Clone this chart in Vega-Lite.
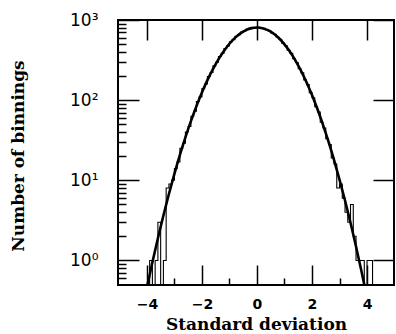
{
  "$schema": "https://vega.github.io/schema/vega-lite/v6.json",
  "autosize": "none",
  "padding": {"left": 118, "top": 20, "right": 2, "bottom": 49},
  "width": 276,
  "height": 265,
  "background": "white",
  "config": {
    "view": {"stroke": "black", "strokeWidth": 2},
    "axis": {"domain": false, "grid": false, "labelColor": "black", "titleColor": "black"}
  },
  "datasets": {
    "hist": [
      {"sd": -4.3, "n": 0.2}, {"sd": -4.0, "n": 0.2}, {"sd": -3.9, "n": 1}, {"sd": -3.8, "n": 0.2},
      {"sd": -3.7, "n": 1}, {"sd": -3.6, "n": 3}, {"sd": -3.5, "n": 0.2}, {"sd": -3.4, "n": 1},
      {"sd": -3.3, "n": 8}, {"sd": -3.2, "n": 9}, {"sd": -3.1, "n": 10}, {"sd": -3.0, "n": 14},
      {"sd": -2.9, "n": 17}, {"sd": -2.8, "n": 25}, {"sd": -2.7, "n": 29}, {"sd": -2.6, "n": 40},
      {"sd": -2.5, "n": 47}, {"sd": -2.4, "n": 63}, {"sd": -2.3, "n": 73}, {"sd": -2.2, "n": 96},
      {"sd": -2.1, "n": 110}, {"sd": -2.0, "n": 140}, {"sd": -1.9, "n": 159}, {"sd": -1.8, "n": 197},
      {"sd": -1.7, "n": 221}, {"sd": -1.6, "n": 268}, {"sd": -1.5, "n": 297}, {"sd": -1.4, "n": 350},
      {"sd": -1.3, "n": 383}, {"sd": -1.2, "n": 441}, {"sd": -1.1, "n": 476}, {"sd": -1.0, "n": 535},
      {"sd": -0.9, "n": 569}, {"sd": -0.8, "n": 627}, {"sd": -0.7, "n": 655}, {"sd": -0.6, "n": 706},
      {"sd": -0.5, "n": 729}, {"sd": -0.4, "n": 768}, {"sd": -0.3, "n": 779}, {"sd": -0.2, "n": 803},
      {"sd": -0.1, "n": 801}, {"sd": 0.0, "n": 810}, {"sd": 0.1, "n": 794}, {"sd": 0.2, "n": 788},
      {"sd": 0.3, "n": 755}, {"sd": 0.4, "n": 737}, {"sd": 0.5, "n": 690}, {"sd": 0.6, "n": 663},
      {"sd": 0.7, "n": 608}, {"sd": 0.8, "n": 574}, {"sd": 0.9, "n": 515}, {"sd": 1.0, "n": 478},
      {"sd": 1.1, "n": 419}, {"sd": 1.2, "n": 383}, {"sd": 1.3, "n": 328}, {"sd": 1.4, "n": 295},
      {"sd": 1.5, "n": 247}, {"sd": 1.6, "n": 219}, {"sd": 1.7, "n": 179}, {"sd": 1.8, "n": 156},
      {"sd": 1.9, "n": 124}, {"sd": 2.0, "n": 107}, {"sd": 2.1, "n": 83}, {"sd": 2.2, "n": 71},
      {"sd": 2.3, "n": 53}, {"sd": 2.4, "n": 45}, {"sd": 2.5, "n": 33}, {"sd": 2.6, "n": 28},
      {"sd": 2.7, "n": 19}, {"sd": 2.8, "n": 16}, {"sd": 2.9, "n": 8}, {"sd": 3.0, "n": 9},
      {"sd": 3.1, "n": 6}, {"sd": 3.2, "n": 4}, {"sd": 3.3, "n": 3}, {"sd": 3.4, "n": 5},
      {"sd": 3.5, "n": 2}, {"sd": 3.6, "n": 1}, {"sd": 3.7, "n": 1}, {"sd": 3.8, "n": 1},
      {"sd": 3.9, "n": 0.2}, {"sd": 4.0, "n": 1}, {"sd": 4.1, "n": 1}, {"sd": 4.2, "n": 0.2},
      {"sd": 4.4, "n": 0.2}
    ],
    "curve": [
      {"sd": -4.2, "n": 0.212}, {"sd": -4.0, "n": 0.457}, {"sd": -3.8, "n": 0.947}, {"sd": -3.6, "n": 1.892},
      {"sd": -3.4, "n": 3.639}, {"sd": -3.2, "n": 6.743}, {"sd": -3.0, "n": 12.03}, {"sd": -2.8, "n": 20.69},
      {"sd": -2.6, "n": 34.28}, {"sd": -2.4, "n": 54.69}, {"sd": -2.2, "n": 84.08}, {"sd": -2.0, "n": 124.5},
      {"sd": -1.8, "n": 177.6}, {"sd": -1.6, "n": 244.0}, {"sd": -1.4, "n": 322.9}, {"sd": -1.2, "n": 411.7},
      {"sd": -1.0, "n": 505.8}, {"sd": -0.8, "n": 598.4}, {"sd": -0.6, "n": 682.1}, {"sd": -0.4, "n": 748.9},
      {"sd": -0.2, "n": 792.1}, {"sd": 0.0, "n": 807}, {"sd": 0.2, "n": 791.5}, {"sd": 0.4, "n": 746.7},
      {"sd": 0.6, "n": 677.6}, {"sd": 0.8, "n": 591.5}, {"sd": 1.0, "n": 496.7}, {"sd": 1.2, "n": 401.1},
      {"sd": 1.4, "n": 311.6}, {"sd": 1.6, "n": 232.9}, {"sd": 1.8, "n": 167.4}, {"sd": 2.0, "n": 115.8},
      {"sd": 2.2, "n": 77.0}, {"sd": 2.4, "n": 49.26}, {"sd": 2.6, "n": 30.32}, {"sd": 2.8, "n": 17.95},
      {"sd": 3.0, "n": 10.22}, {"sd": 3.2, "n": 5.599}, {"sd": 3.4, "n": 2.95}, {"sd": 3.6, "n": 1.495},
      {"sd": 3.8, "n": 0.729}, {"sd": 4.0, "n": 0.342}
    ]
  },
  "layer": [
    {
      "data": {"name": "curve"},
      "mark": {"type": "line", "strokeOpacity": 0, "clip": true},
      "encoding": {
        "x": {
          "field": "sd", "type": "quantitative",
          "scale": {"domain": [-5.05, 4.98], "nice": false, "zero": false},
          "axis": {"orient": "bottom", "values": [-3, -1, 1, 3], "tickSize": -7, "tickColor": "black", "tickWidth": 1.5, "labels": false, "title": null}
        },
        "y": {
          "field": "n", "type": "quantitative",
          "scale": {"type": "log", "domain": [0.494, 1000], "nice": false},
          "axis": {"orient": "left", "values": [0.6, 0.7, 0.8, 0.9, 2, 3, 4, 5, 6, 7, 8, 9, 20, 30, 40, 50, 60, 70, 80, 90, 200, 300, 400, 500, 600, 700, 800, 900], "tickSize": -8, "tickColor": "black", "tickWidth": 1.5, "labels": false, "title": null}
        }
      }
    },
    {
      "data": {"name": "curve"},
      "mark": {"type": "line", "interpolate": "monotone", "color": "black", "strokeWidth": 2.6, "clip": true},
      "encoding": {
        "x": {
          "field": "sd", "type": "quantitative",
          "scale": {"domain": [-5.05, 4.98], "nice": false, "zero": false},
          "axis": {"orient": "top", "values": [-4, -2, 0, 2, 4], "tickSize": -20, "tickColor": "black", "tickWidth": 1.5, "labels": false, "title": null}
        },
        "y": {
          "field": "n", "type": "quantitative",
          "scale": {"type": "log", "domain": [0.494, 1000], "nice": false},
          "axis": {"orient": "right", "values": [1, 10, 100, 1000], "tickSize": -21, "tickColor": "black", "tickWidth": 1.5, "labels": false, "title": null}
        }
      }
    },
    {
      "data": {"name": "hist"},
      "mark": {"type": "line", "interpolate": "step-after", "color": "black", "strokeWidth": 1.1, "clip": true},
      "encoding": {
        "x": {
          "field": "sd", "type": "quantitative",
          "scale": {"domain": [-5.05, 4.98], "nice": false, "zero": false},
          "axis": {
            "orient": "bottom",
            "values": [-4, -2, 0, 2, 4],
            "tickSize": -20, "tickColor": "black", "tickWidth": 1.5,
            "labelFont": "DejaVu Sans", "labelFontWeight": "bold", "labelFontSize": 14,
            "labelPadding": 32, "labelFlush": false, "labelOverlap": false, "labelBound": false,
            "title": "Standard deviation",
            "titleFont": "DejaVu Serif", "titleFontWeight": "bold", "titleFontSize": 17,
            "titleX": 138, "titleY": 44.7, "titleAlign": "center", "titleBaseline": "alphabetic"
          }
        },
        "y": {
          "field": "n", "type": "quantitative",
          "scale": {"type": "log", "domain": [0.494, 1000], "nice": false},
          "axis": {
            "orient": "left",
            "values": [1, 10, 100, 1000],
            "tickSize": -21, "tickColor": "black", "tickWidth": 1.5,
            "labelExpr": "datum.value === 1 ? '10⁰' : datum.value === 10 ? '10¹' : datum.value === 100 ? '10²' : '10³'",
            "labelFont": "DejaVu Sans", "labelFontSize": 17,
            "labelPadding": 41, "labelFlush": false, "labelOverlap": false, "labelBound": false,
            "title": "Number of binnings",
            "titleFont": "DejaVu Serif", "titleFontWeight": "bold", "titleFontSize": 17,
            "titleAngle": -90, "titleX": -95, "titleY": 135.5, "titleAlign": "center", "titleBaseline": "alphabetic"
          }
        }
      }
    }
  ],
  "resolve": {"scale": {"x": "independent", "y": "independent"}}
}
